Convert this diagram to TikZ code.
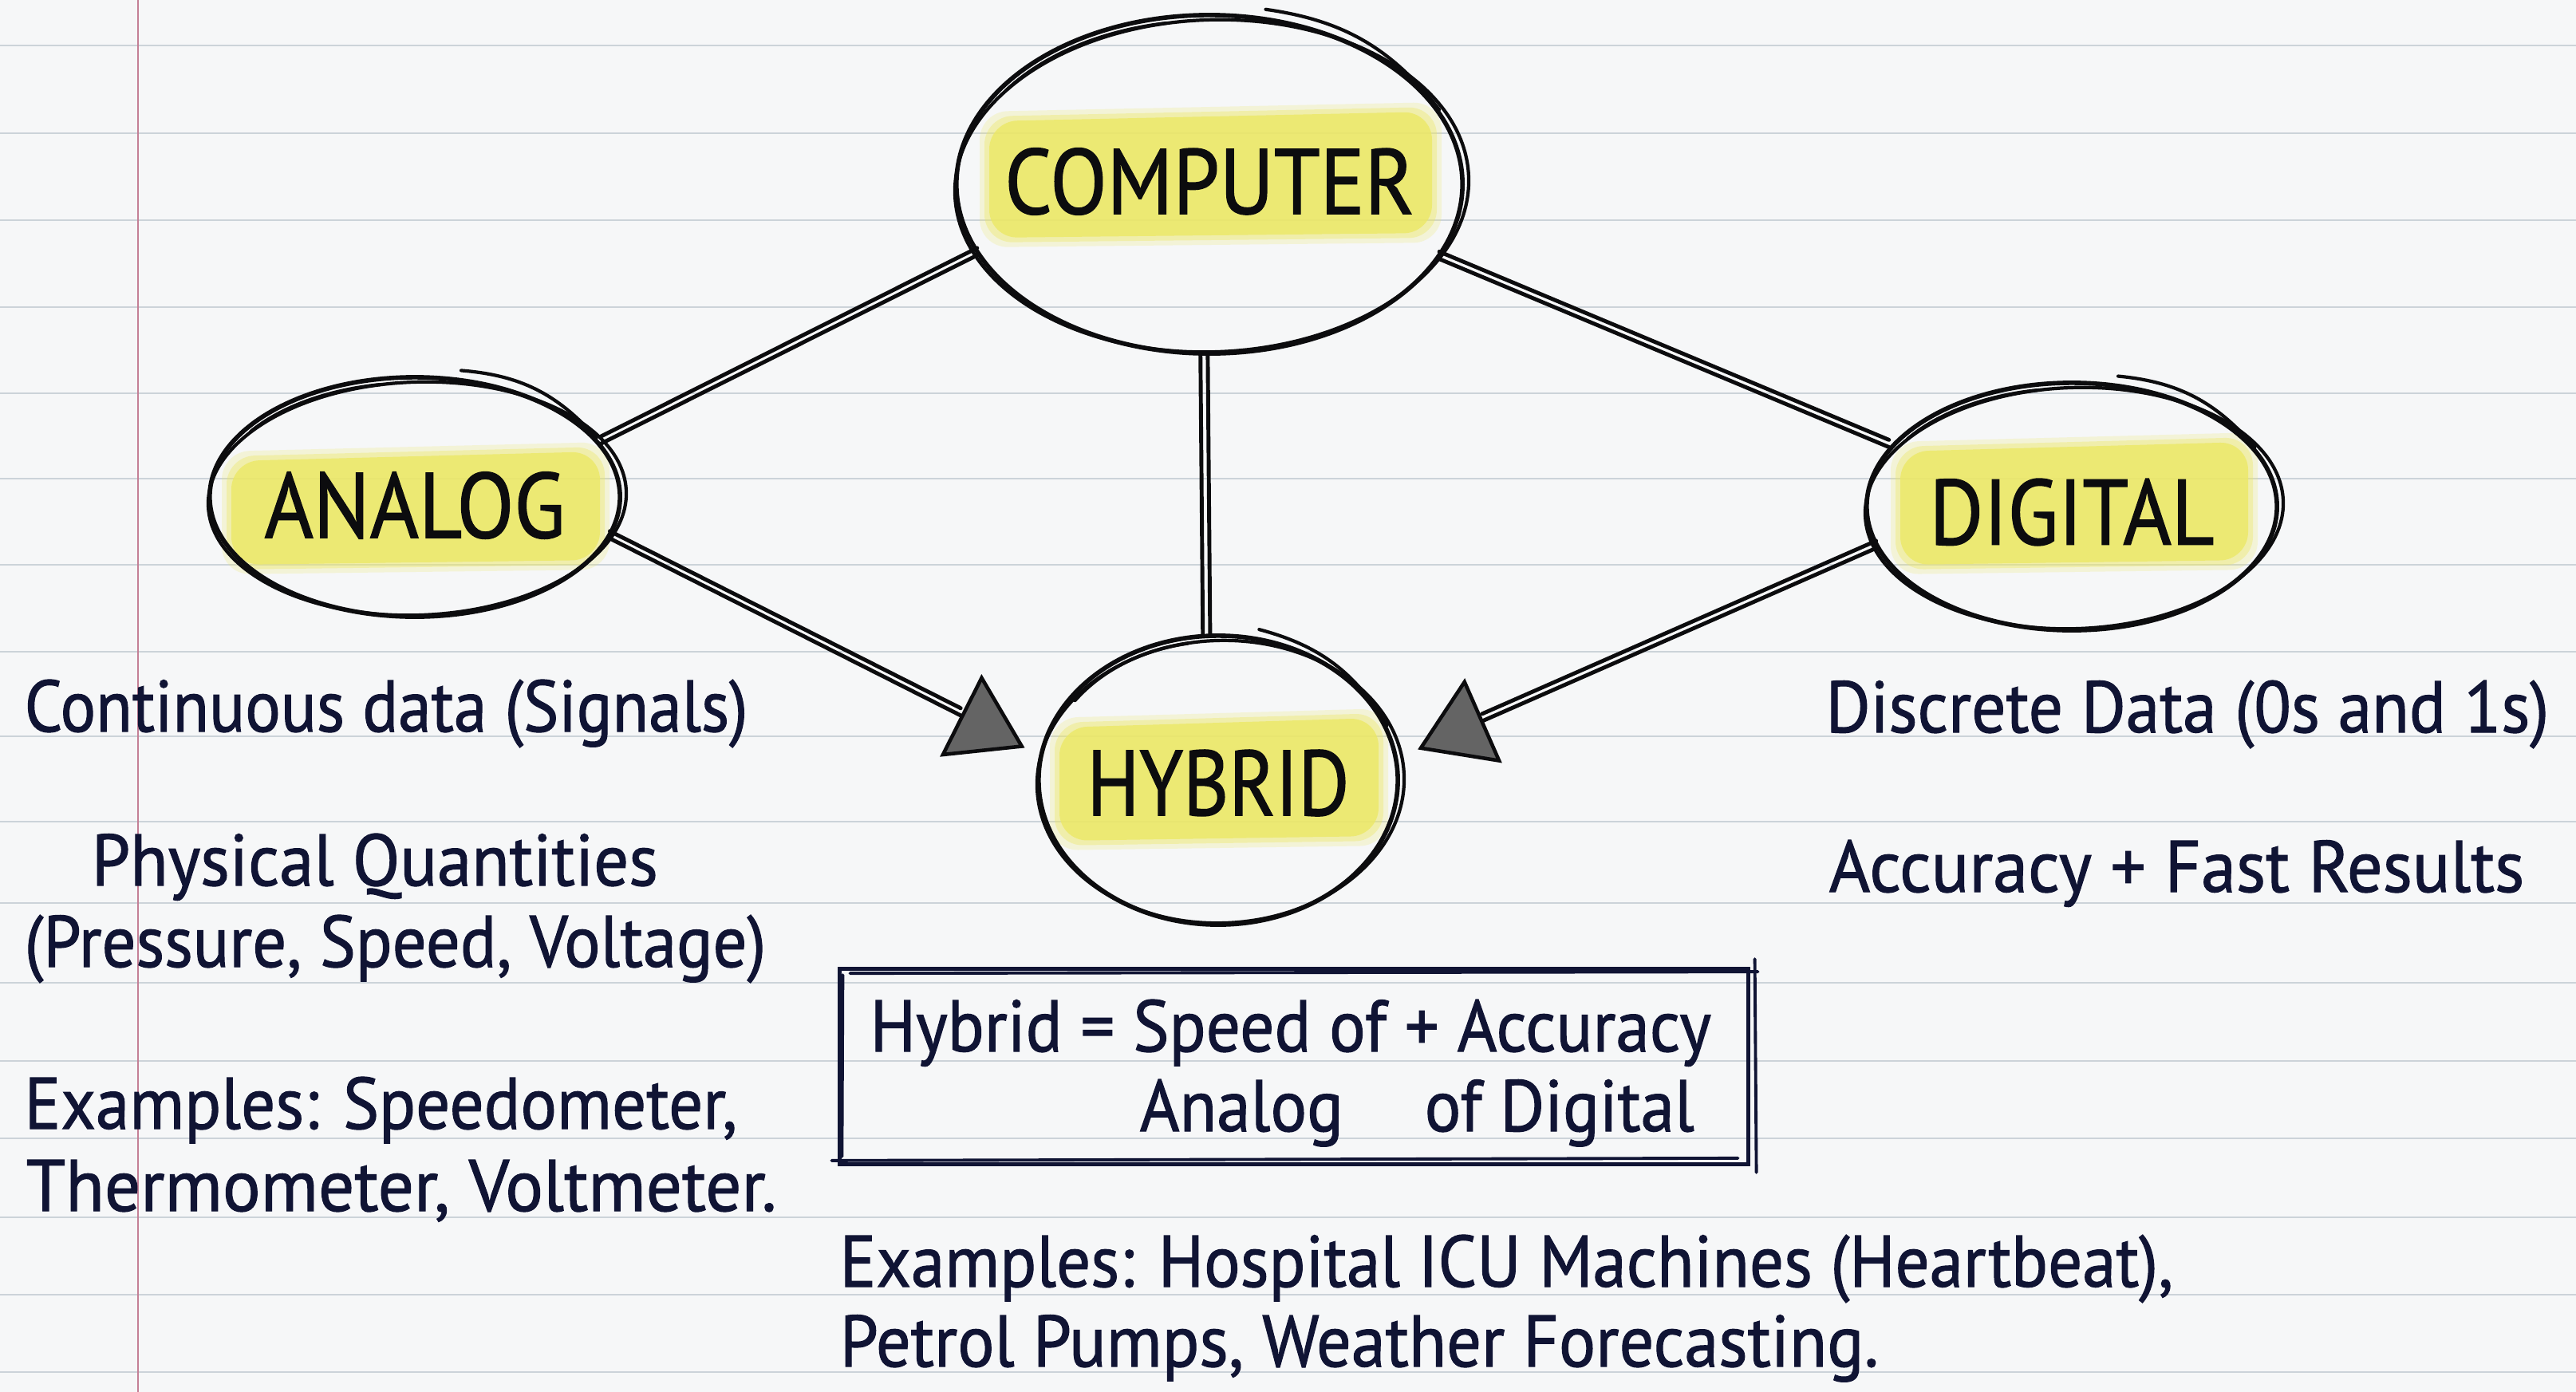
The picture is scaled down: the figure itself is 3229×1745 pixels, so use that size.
\documentclass[tikz,border=0pt]{standalone}
\usepackage{fontspec}
\usepackage{graphicx}
\setmainfont{PT Sans}[BoldFont=PT Sans, BoldFeatures={FakeBold=1.2}]
\usetikzlibrary{shapes.geometric, arrows.meta}

\definecolor{paper}{RGB}{246,247,248}
\definecolor{ruling}{RGB}{204,211,217}
\definecolor{marginred}{RGB}{196,128,150}
\definecolor{ink}{RGB}{12,12,14}
\definecolor{navy}{RGB}{16,20,52}
\definecolor{hilite}{RGB}{236,232,100}
\definecolor{tipfill}{RGB}{100,100,100}

\newcommand\bodysize{\fontsize{26}{31}\selectfont\bfseries}
\newcommand\labelsize{\fontsize{33}{38}\selectfont\bfseries}
% horizontally narrowed text
\newcommand\sq[2]{\scalebox{#1}[1]{#2}}

% blurred marker stroke: left x, top y, right x, bottom y (y measured downwards)
\newcommand\marker[4]{%
  \foreach \g/\o in {12/0.22, 6/0.38, 0/0.78}{%
    \fill[hilite, opacity=\o, rounded corners=10]
      (#1-\g,-#2+\g) -- (#3+\g,-#2+\g+12) -- (#3+\g,-#4-\g+6) -- (#1-\g,-#4-\g) -- cycle;}}

% extra pencil strokes round a bubble: name, x radius, y radius (cm)
\newcommand\ring[3]{%
  \draw[sk] ([shift={(0.03cm,-0.02cm)}]#1.center) ellipse [x radius=#2cm+0.05cm, y radius=#3cm-0.04cm, rotate=2];
  \draw[sk] (#1.center) ++(100:#2cm-0.06cm and #3cm-0.07cm)
     arc [start angle=100, end angle=145, x radius=#2cm-0.06cm, y radius=#3cm-0.07cm];
  \draw[sk] (#1.center) ++(78:#2cm+0.22cm and #3cm+0.12cm) to[bend left=22] (#1.18);}

\begin{document}
\begin{tikzpicture}[x=0.01cm, y=0.01cm,
  bubble/.style={ellipse, draw=ink, line width=1.6pt, inner sep=0pt},
  sk/.style={draw=ink, line width=1.2pt, line cap=round},
  conn/.style={draw=ink, line width=1.4pt, line cap=round},
  lbl/.style={font=\labelsize, text=ink},
  txt/.style={font=\bodysize, text=navy, inner sep=0pt, anchor=base west},
  tip/.style={-{Triangle[length=0.9cm, width=1.15cm, fill=tipfill, line width=1.3pt]}}]

% paper
\fill[paper] (0,0) rectangle (3229,-1745);
\useasboundingbox (0,0) rectangle (3229,-1745);
\foreach \y in {57,167,276,385,493,600,708,817,923,1030,1132,1232,1330,1427,1526,1623,1720}
  \draw[ruling, line width=0.8pt] (0,-\y) -- (3229,-\y);
\draw[marginred, line width=0.6pt] (173,0) -- (173,-1745);

% marker highlights
\marker{1240}{152}{1795}{298}
\marker{290}{578}{752}{708}
\marker{2382}{566}{2818}{708}
\marker{1328}{912}{1728}{1054}

% bubbles
\node[bubble, minimum width=6.34cm, minimum height=4.24cm,
      label={[lbl, yshift=1pt]center:\sq{0.9}{COMPUTER}}] (comp) at (1516,-231) {};
\node[bubble, minimum width=5.14cm, minimum height=3.00cm,
      label={[lbl, yshift=-3pt]center:\sq{0.905}{ANALOG}}] (ana) at (520,-623) {};
\node[bubble, minimum width=5.14cm, minimum height=3.10cm,
      label={[lbl, yshift=-2pt]center:\sq{0.895}{DIGITAL}}] (digi) at (2597,-635) {};
\node[bubble, minimum width=4.50cm, minimum height=3.62cm,
      label={[lbl, yshift=-1pt]center:\sq{0.845}{HYBRID}}] (hyb) at (1527,-978) {};
\ring{comp}{3.17}{2.12}
\ring{ana}{2.57}{1.50}
\ring{digi}{2.57}{1.55}
\ring{hyb}{2.25}{1.81}

% links from COMPUTER
\draw[conn] (comp.197.3) -- (ana.16.7);
\draw[conn] ([yshift=2.6pt]comp.197.3) -- ([yshift=2.6pt]ana.16.7);
\draw[conn] (comp.342.4) -- (digi.162.2);
\draw[conn] ([yshift=2.6pt]comp.342.4) -- ([yshift=2.6pt]digi.162.2);
\draw[conn] (comp.267) -- (hyb.96);
\draw[conn] ([xshift=2.6pt]comp.267) -- ([xshift=2.6pt]hyb.96);

% arrows into HYBRID
\draw[conn, tip, shorten >=0.2cm] (ana.-12.7) -- (hyb.172);
\draw[conn, shorten >=1.1cm] ([yshift=2.6pt]ana.-12.7) -- ([yshift=2.6pt]hyb.172);
\draw[conn, tip, shorten >=0.27cm] (digi.192.5) -- (hyb.7.3);
\draw[conn, shorten >=1.15cm] ([yshift=2.6pt]digi.192.5) -- ([yshift=2.6pt]hyb.7.3);

% analog notes
\node[txt] (a1) at (30,-917) {\sq{0.913}{Continuous data (Signals)}};
\node[txt] (a2) at (114,-1110) {\sq{0.95}{Physical Quantities}};
\node[txt] (a3) at (30,-1212) {\sq{0.926}{(Pressure, Speed, Voltage)}};
\node[txt] (a4) at (30,-1415) {\sq{0.93}{Examples: Speedometer,}};
\node[txt] (a5) at (32,-1518) {\sq{0.975}{Thermometer, Voltmeter.}};

% digital notes
\node[txt] (d1) at (2288,-918) {\sq{0.935}{Discrete Data (0s and 1s)}};
\node[txt] (d2) at (2292,-1118) {\sq{0.965}{Accuracy + Fast Results}};

% hybrid formula box
\node[draw=navy, line width=1.3pt, minimum width=11.38cm, minimum height=2.45cm, inner sep=0pt] (note) at (1622,-1337) {};
\draw[navy, line width=1.1pt, line cap=round] ([shift={(0.15cm,-0.08cm)}]note.north west) -- ([shift={(0.1cm,-0.06cm)}]note.north east);
\draw[navy, line width=1.1pt, line cap=round] ([shift={(-0.08cm,0.07cm)}]note.south west) -- ([shift={(-0.15cm,0.1cm)}]note.south east);
\draw[navy, line width=1.1pt, line cap=round] ([shift={(0.06cm,0.1cm)}]note.north east) -- ([shift={(0.08cm,-0.08cm)}]note.south east);
\draw[navy, line width=1.1pt, line cap=round] ([shift={(0.06cm,-0.1cm)}]note.north west) -- ([shift={(0.05cm,0.12cm)}]note.south west);
\node[txt] (h1) at (1090,-1318) {\sq{0.933}{Hybrid = Speed of + Accuracy}};
\node[txt] (h2) at (1428,-1418) {\sq{0.933}{Analog}};
\node[txt] (h3) at (1785,-1418) {\sq{0.933}{of Digital}};

% hybrid examples
\node[txt] (e1) at (1052,-1613) {\sq{0.93}{Examples: Hospital ICU Machines (Heartbeat),}};
\node[txt] (e2) at (1052,-1713) {\sq{0.944}{Petrol Pumps, Weather Forecasting.}};
\end{tikzpicture}
\end{document}
